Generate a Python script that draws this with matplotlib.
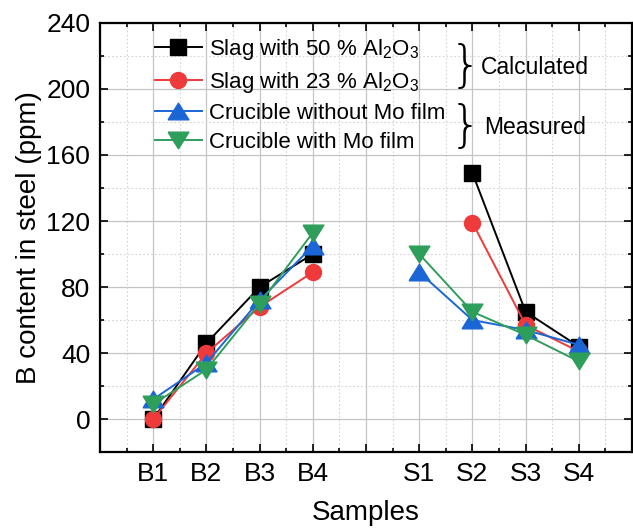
import matplotlib

matplotlib.use("Agg")
import matplotlib.pyplot as plt
import numpy as np
from matplotlib.ticker import FixedLocator, MultipleLocator

plt.rcParams["font.family"] = ["Liberation Sans", "DejaVu Sans"]
plt.rcParams["mathtext.default"] = "regular"

# sample positions on the x axis (gap at 5 between the B and S groups)
positions = [1, 2, 3, 4, 6, 7, 8, 9]
sample_labels = ["B1", "B2", "B3", "B4", "S1", "S2", "S3", "S4"]

# B content in steel (ppm); NaN = no value for that sample
slag_50 = [0, 46, 80, 100, np.nan, 149, 65, 44]
slag_23 = [0, 40, 68, 89, np.nan, 119, 57, 41]
crucible_no_mo = [12, 34, 72, 105, 89, 60, 54, 45]
crucible_mo = [9, 30, 70, 113, 100, 65, 51, 35]

series_labels = [
    "Slag with 50 % Al$_2$O$_3$",
    "Slag with 23 % Al$_2$O$_3$",
    "Crucible without Mo film",
    "Crucible with Mo film",
]

tri_up = [(-1, -0.8), (1, -0.8), (0, 0.8), (-1, -0.8)]
tri_down = [(-1, 0.8), (1, 0.8), (0, -0.8), (-1, 0.8)]

fig = plt.figure(figsize=(6.33, 5.32), dpi=100)
ax = fig.add_axes([0.158, 0.150, 0.8405, 0.807])

x = np.array(positions)
styles = [
    (slag_50, "black", "s", 11),
    (slag_23, "#ee3a3a", "o", 11.5),
    (crucible_no_mo, "#1a66d6", tri_up, 15),
    (crucible_mo, "#2e9e5b", tri_down, 15),
]
for (vals, color, marker, ms), label in zip(styles, series_labels):
    y = np.array(vals, dtype=float)
    mask = ~np.isnan(y)
    # draw each group (B and S) as its own polyline
    for grp in (x < 5, x > 5):
        m = mask & grp
        ax.plot(x[m], y[m], color=color, lw=1.4, marker=marker, ms=ms,
                mec=color, mfc=color, zorder=3)
    ax.plot([], [], color=color, lw=1.4, marker=marker, ms=ms,
            mec=color, mfc=color, label=label)

ax.set_xlim(0, 10)
ax.set_ylim(-20, 240)
ax.xaxis.set_major_locator(MultipleLocator(1))
ax.xaxis.set_minor_locator(MultipleLocator(0.5))
ax.yaxis.set_major_locator(FixedLocator([0, 40, 80, 120, 160, 200, 240]))
ax.yaxis.set_minor_locator(MultipleLocator(20))

tick_text = {p: s for p, s in zip(positions, sample_labels)}
ax.set_xticklabels([tick_text.get(int(t), "") for t in ax.get_xticks()])

ax.grid(which="major", color="#c4c4c4", lw=0.9, ls="-", zorder=0)
ax.grid(which="minor", color="#d4d4d4", lw=0.8, ls=(0, (1.5, 2)), zorder=0)
ax.set_axisbelow(True)

ax.tick_params(which="both", direction="in", top=True, right=True,
               labelsize=19, width=1.2)
ax.tick_params(which="major", length=6, pad=7)
ax.tick_params(which="minor", length=3)
for sp in ax.spines.values():
    sp.set_linewidth(1.6)

ax.set_xlabel("Samples", fontsize=20, labelpad=10)
ax.set_ylabel("B content in steel (ppm)", fontsize=20, labelpad=3)

fig.legend(loc="upper left", bbox_to_anchor=(155 / 633, 1 - 37 / 532),
           frameon=False, fontsize=16, borderpad=0, borderaxespad=0,
           handlelength=2.1, handletextpad=0.35, labelspacing=0.36)

for yc, word, xw in [(67, "Calculated", 481), (127, "Measured", 484)]:
    fig.text(450 / 633, 1 - yc / 532, "}", fontsize=36, ha="left", va="center",
             family=["DejaVu Sans"], fontweight="light")
    fig.text(xw / 633, 1 - yc / 532, word, fontsize=16.5, ha="left", va="center")

fig.savefig("out.png", dpi=100)
